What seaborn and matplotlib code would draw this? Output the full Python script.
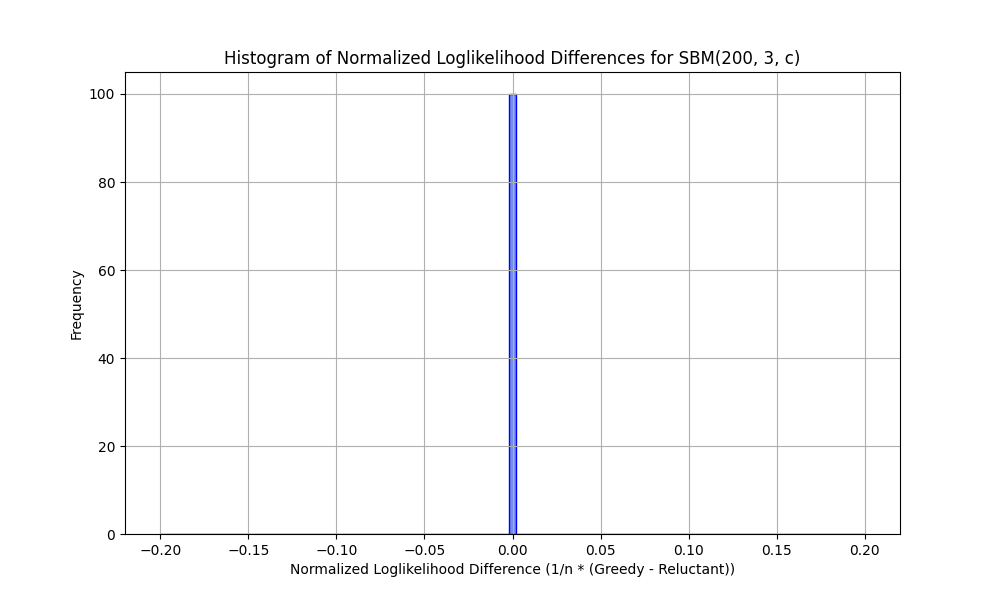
import numpy as np
import matplotlib
matplotlib.use("Agg")
import matplotlib.pyplot as plt
import seaborn as sns

# === Données : différences normalisées (toutes nulles) ===
diffs = [0.0] * 100
bin_edges = np.linspace(-0.2, 0.2, 102)

plt.figure(figsize=(10, 6))
sns.histplot(x=diffs, bins=bin_edges, color="royalblue", edgecolor="blue",
             alpha=0.75, linewidth=1)
plt.title("Histogram of Normalized Loglikelihood Differences for SBM(200, 3, c)")
plt.xlabel("Normalized Loglikelihood Difference (1/n * (Greedy - Reluctant))")
plt.ylabel("Frequency")
plt.xlim(-0.22, 0.22)
plt.grid(True)
plt.savefig("out.png", dpi=100)
